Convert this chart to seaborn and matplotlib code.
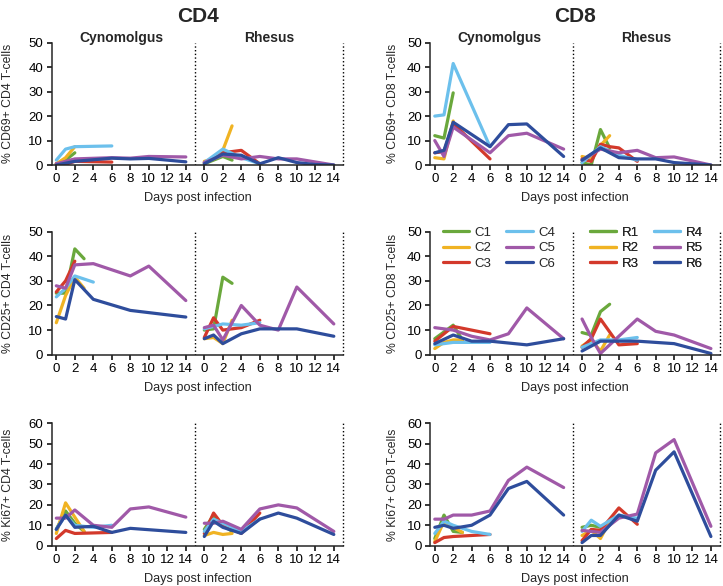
import pandas as pd
import matplotlib.pyplot as plt
import seaborn as sns
from matplotlib.lines import Line2D

# Animals and their colours (same order for cyno and rhesus)
cyno = ['C1', 'C2', 'C3', 'C4', 'C5', 'C6']
rhesus = ['R1', 'R2', 'R3', 'R4', 'R5', 'R6']
colours = ['#6aa83c', '#f0b323', '#d3392b', '#6cc0ec', '#a059a8', '#2e4d9c']

# Each panel: animal -> (days post infection, % positive)
cd69_cd4 = {
    'C1': ([0, 1, 2], [0.5, 2, 5]),
    'C2': ([0, 1, 2], [0.5, 3, 7.5]),
    'C3': ([0, 1, 2, 6], [0.5, 0.3, 1.5, 1.2]),
    'C4': ([0, 1, 2, 6], [2, 6.5, 7.5, 7.8]),
    'C5': ([0, 2, 6, 8, 10, 14], [0.5, 2.5, 3, 2.8, 3.5, 3.3]),
    'C6': ([0, 2, 6, 8, 10, 14], [0, 1.5, 2.8, 2.5, 2.7, 1.3]),
    'R1': ([0, 2, 3], [0.5, 3.5, 2]),
    'R2': ([0, 1, 2, 3], [1.5, 2.5, 6, 16]),
    'R3': ([0, 2, 4, 6], [1, 5, 6, 0.5]),
    'R4': ([0, 2, 4, 6], [1, 6.5, 3, 0.5]),
    'R5': ([0, 2, 4, 6, 8, 10, 14], [1, 4, 2.5, 3.5, 2.5, 2.5, 0]),
    'R6': ([0, 2, 4, 6, 8, 10, 12, 14], [0.5, 4.5, 4, 0.5, 3, 1, 0.2, 0]),
}

cd69_cd8 = {
    'C1': ([0, 1, 2], [12, 11, 29.5]),
    'C2': ([0, 1, 2], [3, 2.5, 18]),
    'C3': ([0, 1, 2, 6], [5, 5.5, 17, 2.5]),
    'C4': ([0, 1, 2, 6], [20, 20.5, 41.5, 7.5]),
    'C5': ([0, 1, 2, 6, 8, 10, 14], [10, 3.5, 15.5, 5, 12, 13, 6.5]),
    'C6': ([0, 1, 2, 6, 8, 10, 14], [5, 6, 17.5, 7.5, 16.5, 16.8, 3.5]),
    'R1': ([0, 1, 2, 3], [1, 0, 14.5, 7]),
    'R2': ([0, 1, 2, 3], [3.5, 2.5, 8, 12]),
    'R3': ([0, 1, 2, 3, 4, 6], [2.5, 1.5, 8.5, 7.5, 7, 1.5]),
    'R4': ([0, 2, 4, 6], [1, 7.5, 4, 2]),
    'R5': ([0, 2, 4, 6, 8, 10, 14], [2, 6.5, 5, 6, 3, 3.3, 0]),
    'R6': ([0, 2, 4, 6, 8, 10, 14], [2, 7, 3, 2.5, 2.5, 1, 0]),
}

cd25_cd4 = {
    'C1': ([0, 1, 2, 3], [25, 25, 43, 39]),
    'C2': ([0, 1, 2, 3], [13, 24, 31.5, 27]),
    'C3': ([0, 1, 2], [25.5, 30, 38]),
    'C4': ([0, 1, 2, 4], [23.5, 27, 32, 29.5]),
    'C5': ([0, 1, 2, 4, 8, 10, 14], [28, 27, 36.5, 37, 32, 36, 22]),
    'C6': ([0, 1, 2, 4, 8, 14], [15.5, 14.5, 30.5, 22.5, 18, 15.3]),
    'R1': ([0, 1, 2, 3], [10, 10.5, 31.5, 29]),
    'R2': ([0, 1, 2, 3], [6.5, 7, 4.5, 14]),
    'R3': ([0, 1, 2, 4, 6], [7, 15, 10, 11, 14]),
    'R4': ([0, 1, 2, 4, 6], [10.5, 11.5, 12.5, 12, 13]),
    'R5': ([0, 1, 2, 4, 6, 8, 10, 14], [11, 12, 6, 20, 12, 10, 27.5, 12.5]),
    'R6': ([0, 1, 2, 4, 6, 10, 14], [6.5, 8, 4.5, 8.5, 10.5, 10.5, 7.5]),
}

cd25_cd8 = {
    'C1': ([0, 2, 3], [6.5, 12, 6]),
    'C2': ([0, 1, 2, 3], [2.5, 5, 6, 6]),
    'C3': ([0, 2, 6], [5.5, 11.5, 8.5]),
    'C4': ([0, 2, 6], [4, 5, 5]),
    'C5': ([0, 2, 4, 6, 8, 10, 14], [11, 10, 7.5, 6, 8.5, 19, 6.5]),
    'C6': ([0, 2, 4, 6, 10, 14], [4.5, 8, 5.5, 5.5, 4, 6.5]),
    'R1': ([0, 1, 2, 3], [9, 8, 17.5, 20.5]),
    'R2': ([0, 1, 2, 3], [3.5, 6, 1.5, 8]),
    'R3': ([0, 1, 2, 4, 6], [3, 6.5, 14.5, 4, 4.5]),
    'R4': ([0, 2, 4, 6], [3, 6, 6, 7]),
    'R5': ([0, 1, 2, 4, 6, 8, 10, 14], [14.5, 7, 0.5, 7.5, 14.5, 9.5, 8, 2.5]),
    'R6': ([0, 2, 4, 6, 10, 14], [1.5, 5.5, 5.5, 5.5, 4.5, 0.5]),
}

ki67_cd4 = {
    'C1': ([0, 1, 2, 3], [8, 17, 11, 7]),
    'C2': ([0, 1, 2, 3], [6, 21, 14, 7]),
    'C3': ([0, 1, 2, 6], [3.5, 7.5, 6, 6.5]),
    'C4': ([0, 1, 2, 4, 6], [8, 15, 10, 9, 10]),
    'C5': ([0, 1, 2, 4, 6, 8, 10, 14], [13.5, 13.5, 17.5, 10, 9, 18, 19, 14]),
    'C6': ([0, 1, 2, 4, 6, 8, 14], [8, 15, 9, 9.5, 6.5, 8.5, 6.5]),
    'R1': ([0, 1, 2, 3], [8, 15, 10, 7]),
    'R2': ([0, 1, 2, 3], [5, 6.5, 5.5, 6]),
    'R3': ([0, 1, 2, 4, 6], [6, 16, 10, 6, 16]),
    'R4': ([0, 1, 2, 4, 6], [7, 13, 11, 7, 13]),
    'R5': ([0, 1, 2, 4, 6, 8, 10, 14], [11, 11, 12, 8, 18, 20, 18.5, 7]),
    'R6': ([0, 1, 2, 4, 6, 8, 10, 14], [4.5, 12, 9, 6, 13, 16, 13.5, 5.5]),
}

ki67_cd8 = {
    'C1': ([0, 1, 2, 3], [3.5, 15, 7, 6.5]),
    'C2': ([0, 1, 2, 3], [2, 12, 9, 6.5]),
    'C3': ([0, 1, 2, 6], [1.5, 4, 4.5, 5.5]),
    'C4': ([0, 1, 2, 4, 6], [6, 12, 10, 7, 5.5]),
    'C5': ([0, 1, 2, 4, 6, 8, 10, 14], [13, 13, 15, 15, 17, 32, 38.5, 28.5]),
    'C6': ([0, 1, 2, 4, 6, 8, 10, 14], [9, 10, 8.5, 10, 15, 28, 31.5, 15]),
    'R1': ([0, 1, 2, 3], [9, 10, 9, 10.5]),
    'R2': ([0, 1, 2, 3], [5, 7.5, 3.5, 12]),
    'R3': ([0, 1, 2, 4, 6], [2.5, 8, 7.5, 18.5, 10.5]),
    'R4': ([0, 1, 2, 4, 6], [7, 12.5, 9.5, 15, 13.5]),
    'R5': ([0, 1, 2, 4, 6, 8, 10, 14], [7.5, 7, 6.5, 13.5, 15.5, 45.5, 52, 9.5]),
    'R6': ([0, 1, 2, 4, 6, 8, 10, 14], [1.5, 5, 5, 15, 12, 37, 46, 4.5]),
}

RHESUS_SHIFT = 16  # rhesus days are drawn to the right of the cyno block

sns.set_theme(style='ticks')
plt.rcParams['font.family'] = ['Liberation Sans', 'DejaVu Sans']
plt.rcParams['axes.linewidth'] = 1.1
plt.rcParams['xtick.major.width'] = 1.1
plt.rcParams['ytick.major.width'] = 1.1
plt.rcParams['xtick.major.size'] = 3.6
plt.rcParams['ytick.major.size'] = 3.6

palette = dict(zip(cyno + rhesus, colours + colours))

fig = plt.figure(figsize=(7.23, 5.86), dpi=100)

panels = [
    (cd69_cd4, '% CD69+ CD4 T-cells', 50, [0.0715, 0.7184, 0.403, 0.2087]),
    (cd69_cd8, '% CD69+ CD8 T-cells', 50, [0.595, 0.7184, 0.401, 0.2087]),
    (cd25_cd4, '% CD25+ CD4 T-cells', 50, [0.0715, 0.3947, 0.403, 0.21]),
    (cd25_cd8, '% CD25+ CD8 T-cells', 50, [0.595, 0.3947, 0.401, 0.21]),
    (ki67_cd4, '% Ki67+ CD4 T-cells', 60, [0.0715, 0.0688, 0.403, 0.2089]),
    (ki67_cd8, '% Ki67+ CD8 T-cells', 60, [0.595, 0.0688, 0.401, 0.2089]),
]

axes = []
for i, (data, ylabel, ymax, pos) in enumerate(panels):
    ax = fig.add_axes(pos)
    rows = []
    for animal, (days, vals) in data.items():
        shift = RHESUS_SHIFT if animal.startswith('R') else 0
        for d, v in zip(days, vals):
            rows.append({'animal': animal, 'x': d + shift, 'val': v})
    df = pd.DataFrame(rows)
    sns.lineplot(data=df, x='x', y='val', hue='animal', palette=palette,
                 hue_order=cyno + rhesus, estimator=None, sort=False,
                 linewidth=2.3, legend=False, ax=ax)

    ax.set_xlim(-0.5, 31)
    ax.set_ylim(0, ymax)
    ax.set_yticks(range(0, ymax + 1, 10))
    ticks = list(range(0, 15, 2)) + [t + RHESUS_SHIFT for t in range(0, 15, 2)]
    ax.set_xticks(ticks)
    ax.set_xticklabels([str(t) for t in range(0, 15, 2)] * 2)
    ax.tick_params(labelsize=9.5, colors='black', pad=2.5)
    ax.axvline(15, color='black', linestyle=':', linewidth=1)
    ax.axvline(31, color='black', linestyle=':', linewidth=1, clip_on=False)
    ax.set_ylabel(ylabel, fontsize=8.8, labelpad=10 if i % 2 == 0 else 6)
    ax.set_xlabel('Days post infection', fontsize=9.2, labelpad=5)
    sns.despine(ax=ax)
    axes.append(ax)

# species labels on the top row
for ax in axes[:2]:
    ax.text(7, 51.8, 'Cynomolgus', ha='center', va='center',
            fontsize=10, fontweight='bold')
    ax.text(7 + RHESUS_SHIFT, 51.8, 'Rhesus', ha='center', va='center',
            fontsize=10, fontweight='bold')

# legends in the CD25+ CD8 panel
ax = axes[3]
for names, x0 in [(cyno, 0.85), (rhesus, 0.85 + RHESUS_SHIFT)]:
    handles = [Line2D([], [], color=c, lw=2.3) for c in colours]
    leg = ax.legend(handles, names, ncol=2, loc='upper left',
                    bbox_to_anchor=(x0, 52), bbox_transform=ax.transData,
                    frameon=False, fontsize=9.5, handlelength=2.0,
                    handletextpad=0.4, columnspacing=1.15, labelspacing=0.25,
                    borderpad=0, borderaxespad=0)
    ax.add_artist(leg)

fig.text(0.274, 0.972, 'CD4', ha='center', va='center', fontsize=15, fontweight='bold')
fig.text(0.795, 0.972, 'CD8', ha='center', va='center', fontsize=15, fontweight='bold')

fig.savefig('out.png', dpi=100)
